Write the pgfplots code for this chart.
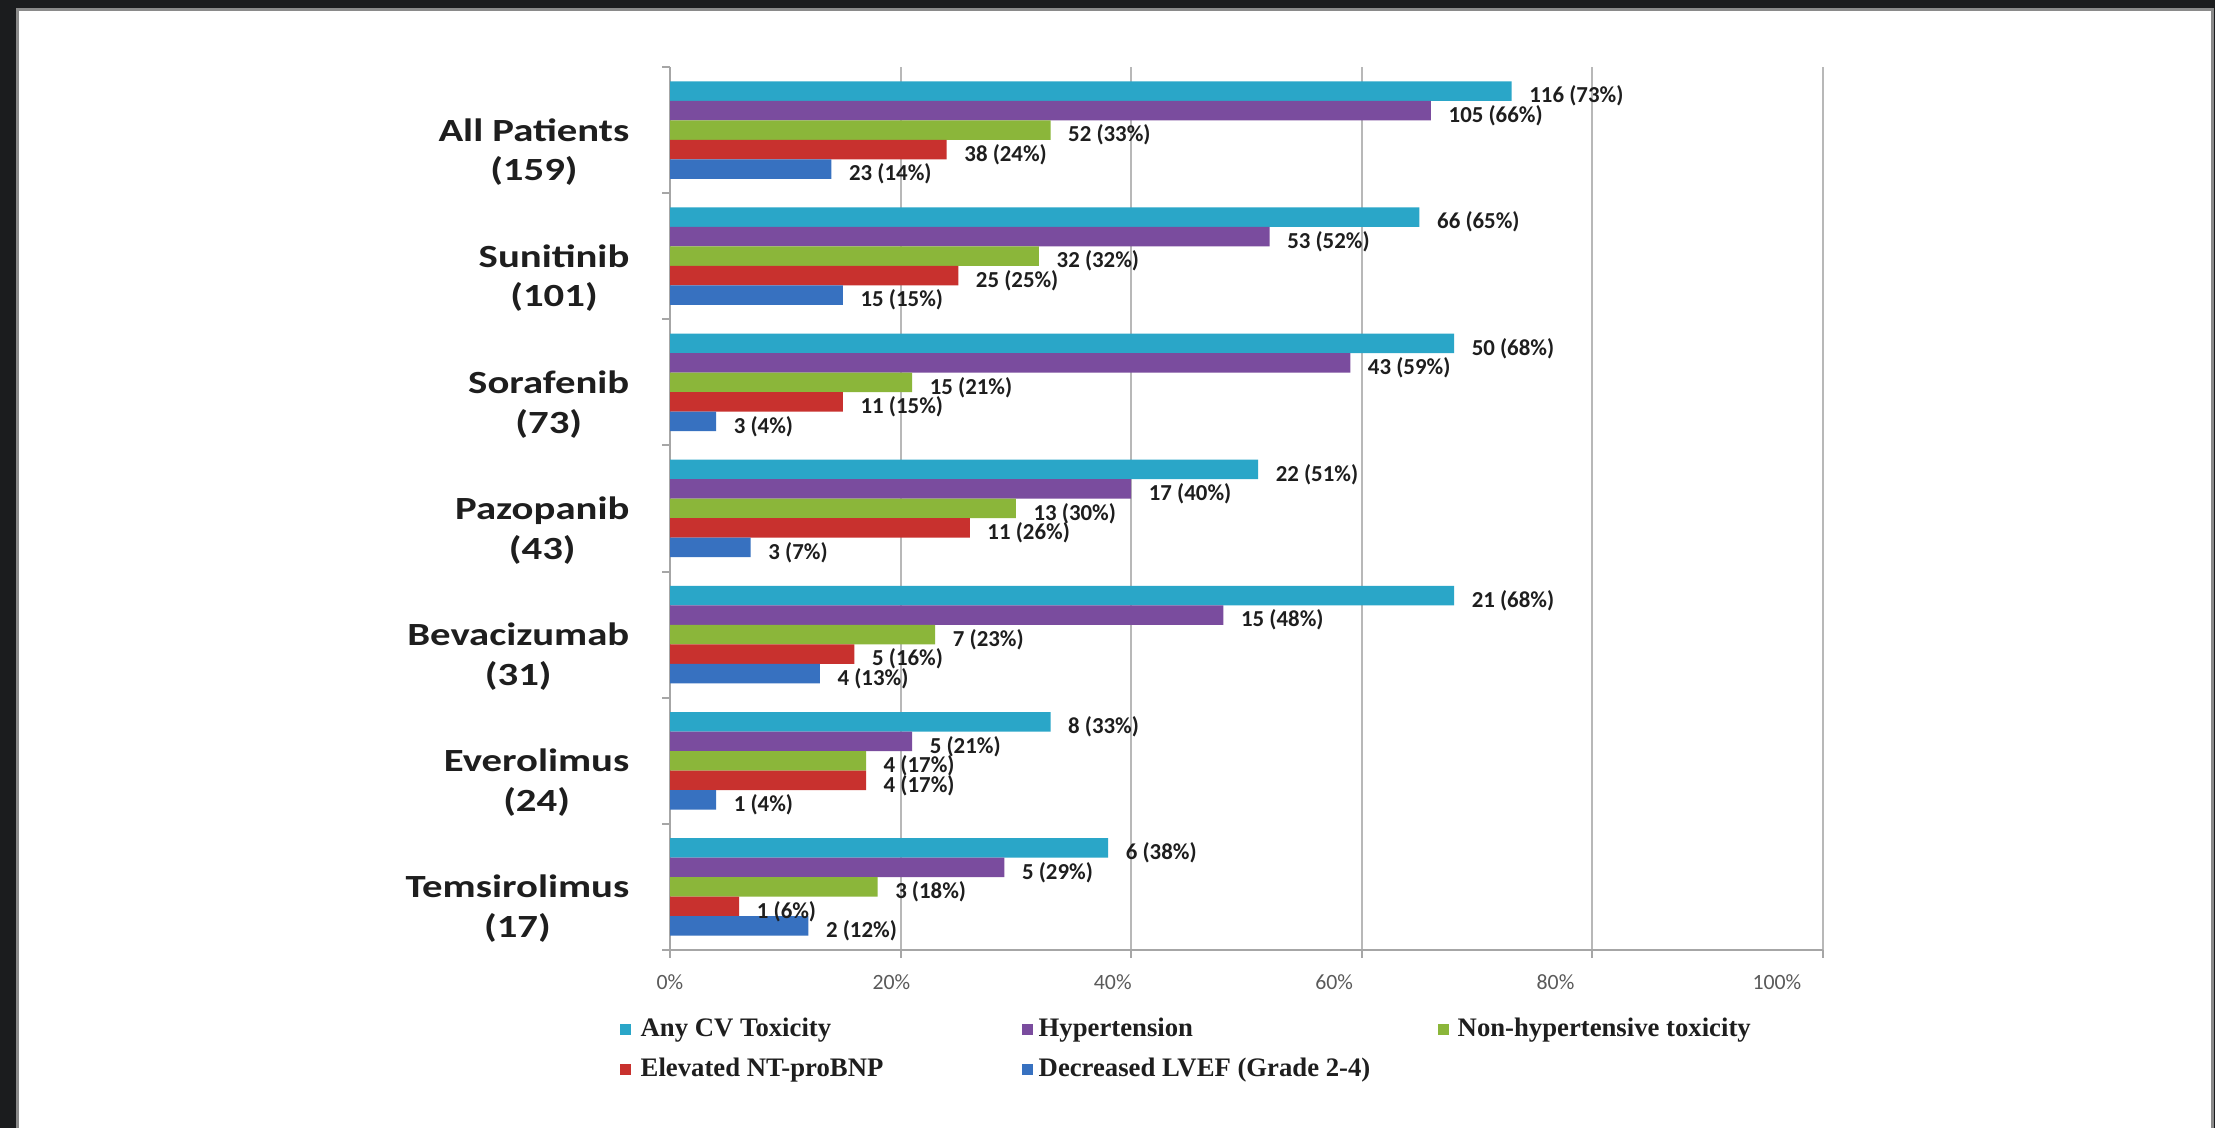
\documentclass[border=0pt]{standalone}
\usepackage{pgfplots}
\pgfplotsset{compat=1.18}
\usepackage{pgfplotstable}
\usepackage{fontspec}
\setmainfont{Carlito}
\newfontfamily\catfont{Carlito}[FakeStretch=1.26]
\newfontfamily\legfont{Liberation Serif}

\definecolor{framedark}{HTML}{1B1C1E}
\definecolor{framegray}{HTML}{8A8A8A}
\definecolor{axisgray}{HTML}{A6A6A6}
\definecolor{gridgray}{HTML}{B8B8B8}
\definecolor{textdark}{HTML}{1E1E1E}
\definecolor{ticktext}{HTML}{5A5A5A}

\definecolor{cvmain}{HTML}{2AA6C8}
\definecolor{htmain}{HTML}{7A4C9E}
\definecolor{nhmain}{HTML}{8BB63A}
\definecolor{bnmain}{HTML}{C8312E}
\definecolor{lvmain}{HTML}{3771C0}

% pos: 6 = All Patients ... 0 = Temsirolimus; pct = share of group, n = patients
\pgfplotstableread{
pos pct n
6 73 116
5 65 66
4 68 50
3 51 22
2 68 21
1 33 8
0 38 6
}\anycv
\pgfplotstableread{
pos pct n
6 66 105
5 52 53
4 59 43
3 40 17
2 48 15
1 21 5
0 29 5
}\hypert
\pgfplotstableread{
pos pct n
6 33 52
5 32 32
4 21 15
3 30 13
2 23 7
1 17 4
0 18 3
}\nonhyp
\pgfplotstableread{
pos pct n
6 24 38
5 25 25
4 15 11
3 26 11
2 16 5
1 17 4
0 6 1
}\ntbnp
\pgfplotstableread{
pos pct n
6 14 23
5 15 15
4 4 3
3 7 3
2 13 4
1 4 1
0 12 2
}\lvef

\begin{document}
\begin{tikzpicture}[x=1mm,y=1mm]
% slide frame
\fill[framedark] (0,0) rectangle (221.5,112.8);
\fill[white] (1.7,0) rectangle (221.2,111.8);
\draw[framegray, line width=0.3mm] (1.7,0) -- (1.7,111.8) -- (221.2,111.8) -- (221.2,0);

\begin{axis}[
  at={(67.0mm,17.8mm)}, anchor=south west,
  scale only axis, width=115.3mm, height=88.3mm,
  xmin=0, xmax=100, ymin=-0.5, ymax=6.5,
  xbar, bar width=1.95mm,
  axis x line*=bottom, axis y line*=left,
  axis line style={draw=axisgray, line width=0.25mm},
  xtick={0,20,...,100}, xticklabels={},
  xmajorgrids, grid style={draw=gridgray, line width=0.2mm},
  tick align=outside, major tick length=0.8mm,
  tick style={draw=axisgray, line width=0.2mm},
  ytick={0,...,6},
  yticklabels={{Temsirolimus\\(17)},{Everolimus\\(24)},{Bevacizumab\\(31)},
    {Pazopanib\\(43)},{Sorafenib\\(73)},{Sunitinib\\(101)},{All Patients\\(159)}},
  major y tick style={draw=none},
  minor ytick={-0.5,0.5,...,6.5}, minor tick length=0.8mm,
  minor y tick style={draw=axisgray, line width=0.2mm},
  yticklabel style={align=center, font=\catfont\bfseries\fontsize{9.2}{11.3}\selectfont,
    text=textdark, anchor=east, inner sep=0pt, xshift=-3.2mm, yshift=-2.2mm},
  /pgf/number format/assume math mode=true,
  point meta=x,
  visualization depends on={\thisrow{n}\as\cnt},
  nodes near coords={\pgfmathprintnumber[fixed,precision=0]{\cnt}~(\pgfmathprintnumber[fixed,precision=0]{\pgfplotspointmeta}\%)},
  every node near coord/.append style={anchor=west, inner sep=0pt, xshift=1.7mm, yshift=-0.5mm,
    font=\bfseries\fontsize{6.5}{7}\selectfont, text=textdark},
  clip=false,
]
\addplot[draw=none, fill=cvmain, bar shift=3.9mm] table[x=pct, y=pos] {\anycv};
\addplot[draw=none, fill=htmain, bar shift=1.95mm] table[x=pct, y=pos] {\hypert};
\addplot[draw=none, fill=nhmain, bar shift=0mm] table[x=pct, y=pos] {\nonhyp};
\addplot[draw=none, fill=bnmain, bar shift=-1.95mm] table[x=pct, y=pos] {\ntbnp};
\addplot[draw=none, fill=lvmain, bar shift=-3.9mm] table[x=pct, y=pos] {\lvef};

% percentage scale under the axis
\begin{scope}[every node/.style={font=\fontsize{6.2}{7}\selectfont, text=ticktext, yshift=-3.2mm}]
\node at (axis cs:0,-0.5) {0\%};
\node at (axis cs:19.2,-0.5) {20\%};
\node at (axis cs:38.4,-0.5) {40\%};
\node at (axis cs:57.6,-0.5) {60\%};
\node at (axis cs:76.8,-0.5) {80\%};
\node at (axis cs:96.0,-0.5) {100\%};
\end{scope}
\end{axis}

% legend
\begin{scope}[every node/.style={anchor=west, inner sep=0pt, text=textdark,
    font=\legfont\bfseries\fontsize{7.6}{9}\selectfont}]
\fill[cvmain] (62.0,9.3) rectangle ++(1.1,1.1);
\node at (64.0,9.8) {Any CV Toxicity};
\fill[htmain] (102.2,9.3) rectangle ++(1.1,1.1);
\node at (103.8,9.8) {Hypertension};
\fill[nhmain] (143.8,9.3) rectangle ++(1.1,1.1);
\node at (145.7,9.8) {Non-hypertensive toxicity};
\fill[bnmain] (62.0,5.3) rectangle ++(1.1,1.1);
\node at (64.0,5.8) {Elevated NT-proBNP};
\fill[lvmain] (102.2,5.3) rectangle ++(1.1,1.1);
\node at (103.8,5.8) {Decreased LVEF (Grade 2-4)};
\end{scope}
\end{tikzpicture}
\end{document}
